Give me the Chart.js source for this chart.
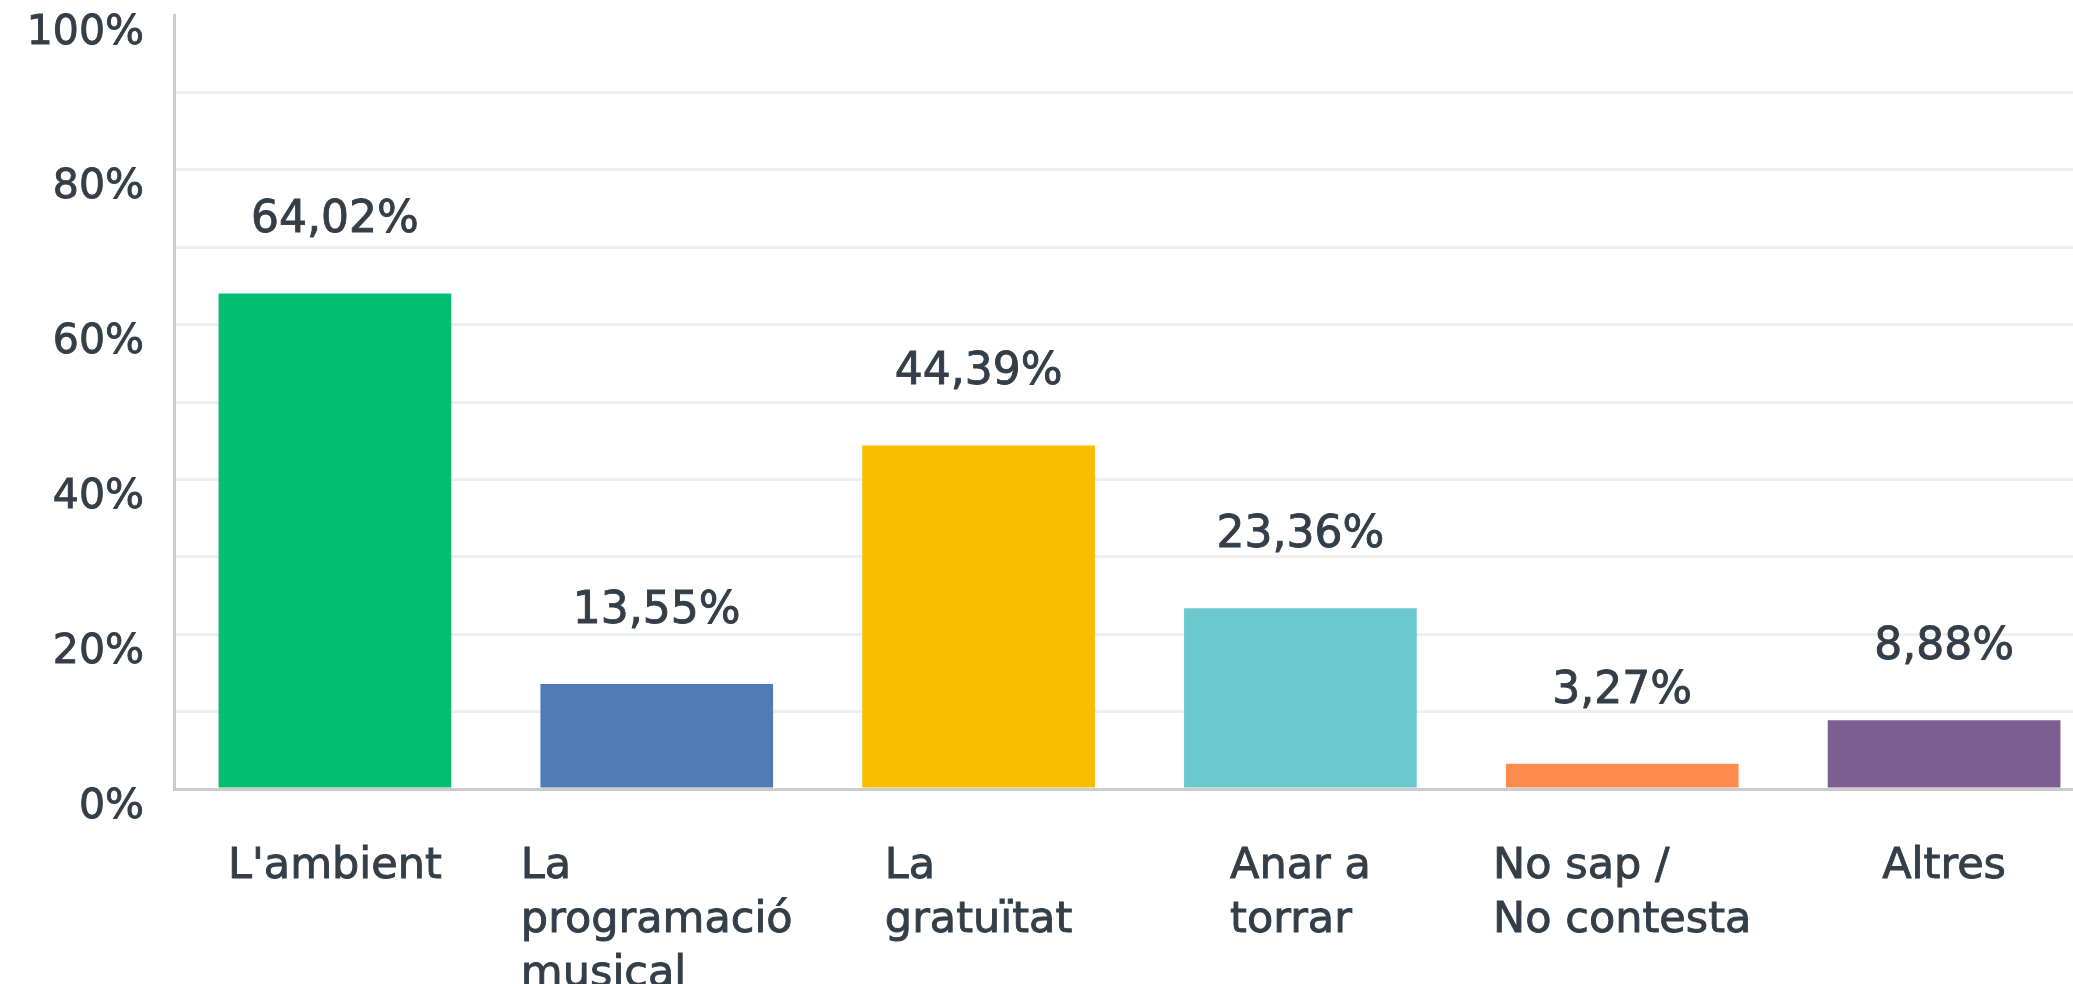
<!DOCTYPE html>
<html>
<head>
<meta charset="utf-8">
<script src="https://cdn.jsdelivr.net/npm/chart.js@4/dist/chart.umd.min.js"></script>
<style>
  html, body { margin: 0; padding: 0; background: #fff; overflow: hidden; }
  #wrap { width: 2105px; height: 984px; }
</style>
</head>
<body>
<div id="wrap"><canvas id="chart" width="2105" height="984"></canvas></div>
<script>
  'use strict';

  const categories = [
    ["L'ambient"],
    ['La', 'programació', 'musical'],
    ['La', 'gratuïtat'],
    ['Anar a', 'torrar'],
    ['No sap /', 'No contesta'],
    ['Altres'],
  ];
  const values = [64.02, 13.55, 44.39, 23.36, 3.27, 8.88];
  const barColors = ['#00bf6f', '#507cb6', '#f9be00', '#6bc8cd', '#ff8b4f', '#7d5e90'];
  const yTicks = [0, 20, 40, 60, 80, 100];

  const TEXT = '#333e48';
  const FONT = '"DejaVu Sans", sans-serif';
  const STROKE = 0.9;

  const fmt = (v) => v.toFixed(2).replace('.', ',') + '%';

  function drawText(ctx, s, x, y) {
    ctx.strokeText(s, x, y);
    ctx.fillText(s, x, y);
  }

  // value labels above each bar
  const valueLabels = {
    id: 'valueLabels',
    afterDatasetsDraw(chart) {
      const ctx = chart.ctx;
      const meta = chart.getDatasetMeta(0);
      ctx.save();
      ctx.font = '44px ' + FONT;
      ctx.fillStyle = TEXT;
      ctx.strokeStyle = TEXT;
      ctx.lineWidth = STROKE;
      ctx.textAlign = 'center';
      ctx.textBaseline = 'alphabetic';
      meta.data.forEach((bar, i) => {
        drawText(ctx, fmt(values[i]), bar.x, bar.y - 61);
      });
      ctx.restore();
    },
  };

  // category labels: block centred on the tick, lines left-aligned
  const categoryLabels = {
    id: 'categoryLabels',
    afterDraw(chart) {
      const ctx = chart.ctx;
      const x = chart.scales.x;
      ctx.save();
      ctx.font = '43px ' + FONT;
      ctx.fillStyle = TEXT;
      ctx.strokeStyle = TEXT;
      ctx.lineWidth = STROKE;
      ctx.textAlign = 'left';
      ctx.textBaseline = 'alphabetic';
      categories.forEach((lines, i) => {
        const cx = x.getPixelForValue(i);
        const w = Math.max(...lines.map((l) => ctx.measureText(l).width));
        lines.forEach((l, k) => {
          drawText(ctx, l, cx - w / 2, chart.chartArea.bottom + 89 + k * 54);
        });
      });
      ctx.restore();
    },
  };

  new Chart(document.getElementById('chart'), {
    type: 'bar',
    data: {
      labels: categories.map((c) => c.join(' ')),
      datasets: [{
        data: values,
        backgroundColor: barColors,
        borderWidth: 0,
        categoryPercentage: 1,
        barPercentage: 0.723,
      }],
    },
    options: {
      responsive: false,
      animation: false,
      layout: { padding: { top: 15, left: 0, right: 0, bottom: 0 } },
      plugins: {
        legend: { display: false },
        tooltip: { enabled: false },
      },
      scales: {
        x: {
          ticks: { display: false },
          grid: { display: false },
          border: { color: '#cccccc', width: 3 },
          afterFit: (s) => { s.height = 195; s.paddingLeft = 0; s.paddingRight = 0; },
        },
        y: {
          min: 0,
          max: 100,
          ticks: {
            stepSize: 10,
            padding: 30,
            labelOffset: 18,
            color: TEXT,
            textStrokeColor: TEXT,
            textStrokeWidth: STROKE,
            font: { family: FONT, size: 41 },
            callback: (v) => (yTicks.includes(v) ? v + '%' : ''),
          },
          grid: {
            drawTicks: false,
            lineWidth: 3,
            color: (c) => (c.tick && c.tick.value === 100 ? 'rgba(0,0,0,0)' : '#eeefef'),
          },
          border: { color: '#cccccc', width: 3 },
          afterFit: (s) => { s.width = 174; s.paddingTop = 0; s.paddingBottom = 0; },
        },
      },
    },
    plugins: [valueLabels, categoryLabels],
  });
</script>
</body>
</html>
